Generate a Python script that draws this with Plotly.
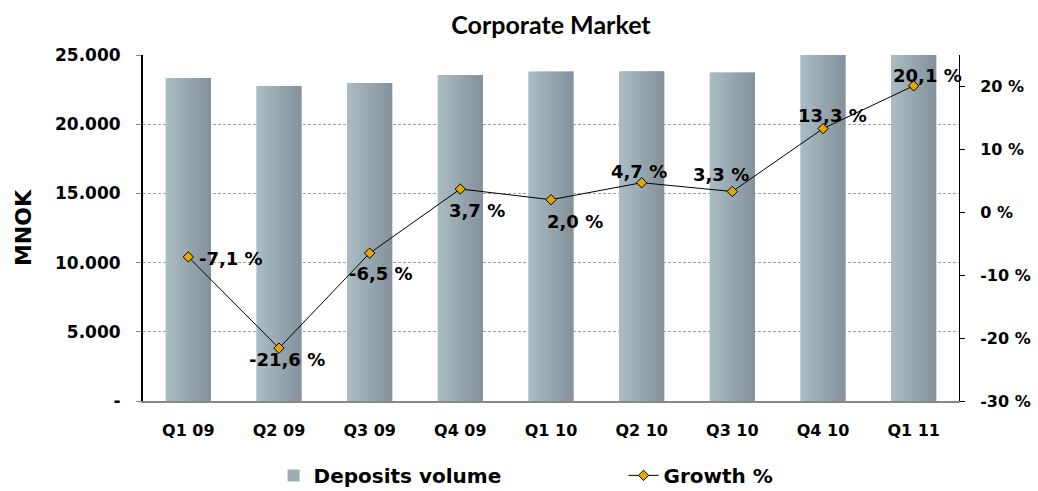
import plotly.graph_objects as go

categories = ["Q1 09", "Q2 09", "Q3 09", "Q4 09", "Q1 10", "Q2 10", "Q3 10", "Q4 10", "Q1 11"]
deposits = [23340, 22760, 22980, 23560, 23800, 23830, 23740, 26690, 28590]
growth = [-7.1, -21.6, -6.5, 3.7, 2.0, 4.7, 3.3, 13.3, 20.1]
growth_labels = ["-7,1 %", "-21,6 %", "-6,5 %", "3,7 %", "2,0 %", "4,7 %", "3,3 %", "13,3 %", "20,1 %"]

left_tickvals = [0, 5000, 10000, 15000, 20000, 25000]
left_ticktext = ["-", "5.000", "10.000", "15.000", "20.000", "25.000"]
right_tickvals = [-30, -20, -10, 0, 10, 20]
right_ticktext = ["-30 %", "-20 %", "-10 %", "0 %", "10 %", "20 %"]

# label offsets (style)
label_shift = [(43, -2), (8, -11), (11, -20), (17, -21), (24, -22), (-3, 11), (-11, 17), (9, 13), (14, 10)]

FONT = "DejaVu Sans"
fig = go.Figure()

# horizontal gradient for bars built from thin overlaid stripes
n = 24
c0 = (170, 188, 195)
c1 = (133, 146, 155)
bw = 0.5
for i in range(n):
    t = i / (n - 1)
    col = "rgb(%d,%d,%d)" % tuple(round(c0[k] + (c1[k] - c0[k]) * t) for k in range(3))
    extra = 0.012 if i < n - 1 else 0.0
    fig.add_trace(go.Bar(
        x=categories, y=deposits,
        width=bw / n + extra, offset=-bw / 2 + i * bw / n,
        marker=dict(color=col, line=dict(width=0)), opacity=1,
        name="Deposits volume", showlegend=(i == n // 3), legendgroup="dep",
        yaxis="y", hoverinfo="skip" if i else "x+y",
    ))

fig.add_trace(go.Scatter(
    x=categories, y=growth, yaxis="y2", mode="lines+markers",
    line=dict(color="black", width=1),
    marker=dict(symbol="diamond", size=8, color="#e0a800", line=dict(color="black", width=1)),
    name="Growth %",
))

for c, g, lab, (dx, dy) in zip(categories, growth, growth_labels, label_shift):
    fig.add_annotation(x=c, y=g, xref="x", yref="y2", text="<b>%s</b>" % lab,
                       showarrow=False, xshift=dx, yshift=dy,
                       font=dict(family=FONT, size=18, color="black"))

fig.update_layout(
    width=1038, height=491,
    margin=dict(l=143, r=79, t=55, b=90, autoexpand=False),
    paper_bgcolor="white", plot_bgcolor="white",
    barmode="overlay",
    title=dict(text="<b>Corporate Market</b>", x=0.5, xref="paper", xanchor="center",
               y=1 - 25 / 491, yref="container", yanchor="middle", automargin=False,
               font=dict(family="Lato", size=25, color="black")),
    xaxis=dict(
        type="category", range=[-0.5, 8.5], automargin=False,
        showline=True, linecolor="#888888", linewidth=2,
        ticks="", showgrid=False,
        tickfont=dict(family=FONT, size=16, color="black", weight="bold"),
        ticklabelstandoff=14,
    ),
    yaxis=dict(
        range=[0, 25000], tickvals=left_tickvals, ticktext=left_ticktext, automargin=False,
        showline=True, linecolor="black", linewidth=2,
        ticks="outside", ticklen=5, tickcolor="#888888",
        showgrid=True, gridcolor="#a0a0a0", griddash="3px,2px", gridwidth=1,
        zeroline=False,
        tickfont=dict(family=FONT, size=17, color="black", weight="bold"),
        ticklabelstandoff=12,
        title=dict(text="<b>MNOK</b>", standoff=17,
                   font=dict(family=FONT, size=22, color="black")),
    ),
    yaxis2=dict(
        range=[-30, 25], tickvals=right_tickvals, ticktext=right_ticktext, automargin=False,
        overlaying="y", side="right",
        showline=True, linecolor="black", linewidth=1,
        ticks="outside", ticklen=5, tickcolor="black",
        showgrid=False, zeroline=False,
        tickfont=dict(family=FONT, size=16, color="black", weight="bold"),
        ticklabelstandoff=12,
    ),
    legend=dict(
        orientation="h", x=0.16, xanchor="left", y=-0.215, yanchor="middle",
        font=dict(family=FONT, size=20, color="black", weight="bold"),
        entrywidth=305, entrywidthmode="pixels", bgcolor="rgba(0,0,0,0)",
    ),
    showlegend=True,
)

fig.write_html("out.html", config={"displayModeBar": False},
               post_script="document.body.style.margin='0';document.body.style.overflow='hidden';")
